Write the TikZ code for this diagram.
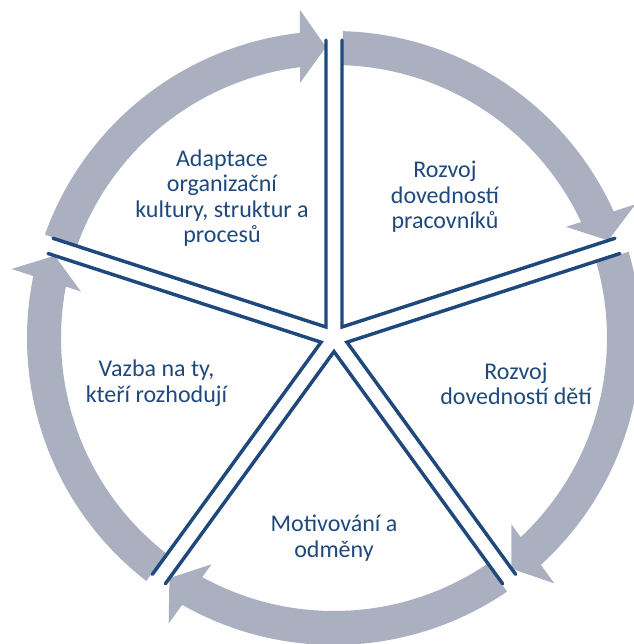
\documentclass[tikz,border=0pt]{standalone}
\usepackage{fontspec}
\setmainfont{Carlito}
\definecolor{navy}{RGB}{31,73,125}
\definecolor{ringgrey}{RGB}{170,176,192}
\tikzset{
    spoke/.style={draw=navy, line width=2.6pt, line cap=round, line join=miter},
    label/.style={align=center, text=navy, font=\fontsize{18}{19.2}\selectfont}
}
\begin{document}
\begin{tikzpicture}[x=0.75pt, y=0.75pt]
        \useasboundingbox (-334,-306) rectangle (300,338);
        \clip (-334,-306) rectangle (300,338);

        % ring of arrows, each one ends at the next spoke
        \foreach \s in {90,18,-54,-126,162} {
            \begin{scope}[rotate=\s]
                \fill[ringgrey] (70.32:307) arc[start angle=70.32, end angle=6.36, radius=307]
                    -- (328,34) -- (291,8) -- (255,34) -- (7.15:273)
                    arc[start angle=7.15, end angle=70.11, radius=273] -- cycle;
            \end{scope}
        }

        % double spokes
        \foreach \s in {90,18,-54,-126,162} {
            \begin{scope}[rotate=\s]
                \draw[spoke] (1.54:298.1) -- (36:13.6) -- (70.46:298.1);
            \end{scope}
        }

        \node[label] (adapt) at (-112,140) {Adaptace\\ organizační\\ kultury, struktur a\\ procesů};

        \node[label] (staff) at (111,141) {Rozvoj\\ dovedností\\ pracovníků};

        \node[label] (kids) at (182,-46) {Rozvoj\\ dovedností dětí};

        \node[label] (reward) at (0,-200) {Motivování a\\ odměny};

        \node[label] (link) at (-177.5,-45) {Vazba na ty,\\ kteří rozhodují};
    \end{tikzpicture}
\end{document}
